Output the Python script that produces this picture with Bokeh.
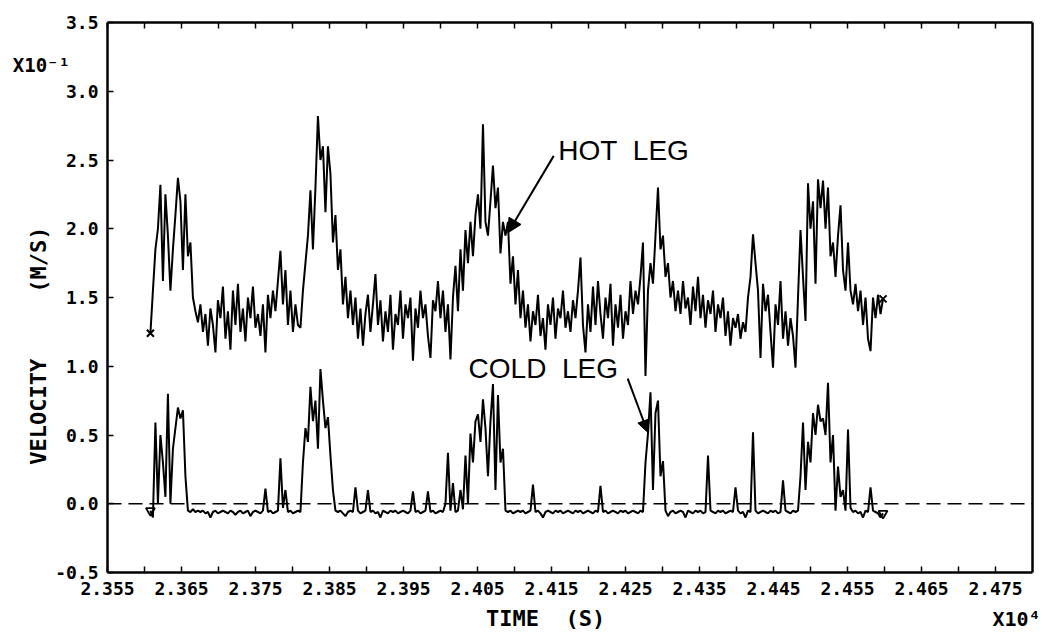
import numpy as np
from bokeh.plotting import figure
from bokeh.models import (FixedTicker, LinearAxis, Label, Arrow, NormalHead,
                          CustomJSTickFormatter, PrintfTickFormatter, Range1d)
from bokeh.embed import file_html
from bokeh.resources import INLINE

# ---------------- data (time in units of 10^4 s, velocity in units of 10^-1 m/s) ----------------
x_tick_labels = ["2.355", "2.365", "2.375", "2.385", "2.395", "2.405", "2.415",
                 "2.425", "2.435", "2.445", "2.455", "2.465", "2.475"]
x_minor_ticks = [2.36, 2.37, 2.38, 2.39, 2.40, 2.41, 2.42, 2.43, 2.44, 2.45, 2.46, 2.47]
y_tick_labels = ["-0.5", "0.0", "0.5", "1.0", "1.5", "2.0", "2.5", "3.0", "3.5"]
x_lo, x_hi = 2.355, 2.48      # axis limits
y_lo, y_hi = -0.5, 3.5

hot_leg = [
    1.24, 1.55, 1.85, 2.00, 2.32, 1.62, 2.25, 1.95, 1.55, 1.85,
    2.10, 2.37, 2.20, 1.70, 2.25, 1.80, 1.90, 1.50, 1.40, 1.32,
    1.45, 1.25, 1.38, 1.15, 1.42, 1.30, 1.10, 1.48, 1.35, 1.58,
    1.20, 1.40, 1.12, 1.55, 1.30, 1.60, 1.25, 1.42, 1.18, 1.50,
    1.35, 1.58, 1.28, 1.38, 1.22, 1.45, 1.10, 1.52, 1.35, 1.55,
    1.40, 1.62, 1.84, 1.45, 1.70, 1.30, 1.55, 1.25, 1.45, 1.30,
    1.28, 1.55, 1.75, 1.95, 2.28, 1.85, 2.30, 2.82, 2.50, 2.60,
    2.12, 2.60, 2.40, 1.90, 2.10, 1.70, 1.85, 1.45, 1.65, 1.35,
    1.55, 1.30, 1.50, 1.20, 1.42, 1.15, 1.38, 1.52, 1.25, 1.45,
    1.67, 1.30, 1.48, 1.18, 1.40, 1.25, 1.52, 1.12, 1.38, 1.30,
    1.55, 1.20, 1.45, 1.35, 1.50, 1.04, 1.42, 1.28, 1.55, 1.35,
    1.45, 1.22, 1.06, 1.48, 1.40, 1.62, 1.35, 1.55, 1.25, 1.45,
    1.05, 1.50, 1.73, 1.40, 1.85, 1.55, 1.99, 1.75, 2.05, 1.80,
    2.10, 2.25, 2.00, 2.76, 2.05, 1.95, 2.20, 2.46, 2.15, 2.30,
    1.82, 2.05, 1.95, 2.05, 1.60, 1.80, 1.45, 1.70, 1.35, 1.55,
    1.28, 1.45, 1.18, 1.40, 1.30, 1.52, 1.22, 1.35, 1.12, 1.45,
    1.30, 1.50, 1.20, 1.42, 1.35, 1.55, 1.28, 1.40, 1.25, 1.48,
    1.35, 1.55, 1.79, 1.30, 1.10, 1.45, 1.25, 1.58, 1.30, 1.62,
    1.38, 1.20, 1.50, 1.35, 1.60, 1.15, 1.45, 1.28, 1.52, 1.20,
    1.40, 1.30, 1.62, 1.38, 1.55, 1.45, 1.65, 1.90, 0.93, 1.55,
    1.75, 1.60, 1.95, 2.30, 1.85, 1.95, 1.65, 1.75, 1.50, 1.62,
    1.40, 1.55, 1.38, 1.62, 1.42, 1.50, 1.30, 1.58, 1.40, 1.65,
    1.35, 1.52, 1.28, 1.48, 1.38, 1.55, 1.25, 1.45, 1.35, 1.50,
    1.22, 1.40, 1.15, 1.35, 1.28, 1.38, 1.20, 1.32, 1.25, 1.50,
    1.65, 1.96, 1.75, 1.55, 1.06, 1.60, 1.40, 1.52, 1.25, 0.99,
    1.45, 1.30, 1.62, 1.20, 1.40, 1.15, 1.35, 1.22, 0.99, 1.50,
    1.99, 1.65, 1.33, 2.33, 2.00, 2.20, 1.60, 2.36, 2.15, 2.35,
    2.00, 2.30, 1.80, 1.90, 1.65, 1.95, 2.17, 1.70, 1.55, 1.90,
    1.55, 1.45, 1.60, 1.40, 1.55, 1.30, 1.50, 1.20, 1.11, 1.50,
    1.35, 1.52, 1.38, 1.49,
]

cold_leg = [
    -0.05, -0.10, 0.59, 0.00, 0.50, 0.30, 0.05, 0.80, 0.00, 0.40,
    0.55, 0.70, 0.62, 0.68, 0.20, -0.05, -0.06, -0.04, -0.06, -0.05,
    -0.06, -0.05, -0.07, -0.06, -0.10, -0.06, -0.05, -0.07, -0.06, -0.05,
    -0.06, -0.07, -0.05, -0.06, -0.08, -0.06, -0.05, -0.07, -0.06, -0.05,
    -0.09, -0.06, -0.05, -0.06, -0.07, -0.05, 0.11, -0.06, -0.05, -0.07,
    -0.06, -0.05, 0.33, -0.03, 0.10, -0.06, -0.05, -0.07, -0.06, -0.05,
    -0.06, 0.30, 0.55, 0.45, 0.85, 0.60, 0.75, 0.40, 0.98, 0.75,
    0.55, 0.63, 0.35, 0.10, -0.05, -0.06, -0.05, -0.07, -0.09, -0.06,
    -0.05, -0.06, 0.12, -0.05, -0.07, -0.06, -0.05, 0.10, -0.06, -0.05,
    -0.07, -0.06, -0.10, -0.05, -0.06, -0.07, -0.05, -0.06, -0.05, -0.07,
    -0.06, -0.05, -0.06, -0.07, -0.05, 0.09, -0.06, -0.05, -0.07, -0.06,
    -0.05, 0.09, -0.06, -0.05, -0.07, -0.06, -0.05, -0.06, 0.00, 0.37,
    -0.05, 0.15, -0.06, -0.05, 0.10, -0.04, 0.35, 0.00, 0.51, 0.30,
    0.60, 0.65, 0.45, 0.76, 0.55, 0.20, 0.60, 0.87, 0.10, 0.79,
    0.30, 0.40, -0.05, -0.06, -0.05, -0.07, -0.06, -0.05, -0.06, -0.05,
    -0.07, -0.06, -0.05, 0.14, -0.06, -0.05, -0.07, -0.10, -0.06, -0.05,
    -0.06, -0.07, -0.05, -0.06, -0.05, -0.07, -0.06, -0.05, -0.06, -0.07,
    -0.05, -0.06, -0.05, -0.07, -0.06, -0.05, -0.06, -0.07, -0.05, -0.06,
    0.13, -0.06, -0.05, -0.07, -0.06, -0.05, -0.06, -0.07, -0.05, -0.06,
    -0.05, -0.07, -0.06, -0.05, -0.06, -0.07, -0.05, -0.06, 0.30, 0.51,
    0.81, 0.10, 0.66, 0.75, 0.20, 0.31, -0.05, -0.09, -0.06, -0.05,
    -0.07, -0.06, -0.05, -0.06, -0.10, -0.05, -0.06, -0.07, -0.05, -0.06,
    -0.05, -0.07, -0.06, 0.35, -0.05, -0.06, -0.07, -0.05, -0.06, -0.05,
    -0.07, -0.06, -0.05, -0.06, 0.12, -0.05, -0.07, -0.06, -0.10, -0.05,
    -0.06, 0.52, -0.05, -0.07, -0.06, -0.05, -0.06, -0.07, -0.05, -0.06,
    -0.05, -0.07, -0.06, 0.17, -0.05, -0.06, -0.07, -0.05, -0.06, -0.05,
    0.20, 0.59, 0.10, 0.45, 0.30, 0.66, 0.50, 0.72, 0.60, 0.62,
    0.50, 0.88, 0.30, 0.50, -0.05, 0.27, 0.05, 0.10, -0.05, 0.54,
    -0.03, -0.06, -0.05, -0.07, -0.06, -0.10, -0.05, -0.06, 0.12, -0.05,
    -0.06, -0.07, -0.10, -0.07,
]

t_start, t_end = 2.3608, 2.4598          # sampled record: 23608 s .. 24598 s
time = np.linspace(t_start, t_end, len(hot_leg))

x_major = [float(s) for s in x_tick_labels]
y_major = [float(s) for s in y_tick_labels]

# ---------------- layout ----------------
W, H = 1045, 633
BOX_L, BOX_R, BOX_T, BOX_B = 107, 1032, 22, 572      # axes box inside the canvas (px)
xs = (x_hi - x_lo) / (BOX_R - BOX_L)
ys = (y_hi - y_lo) / (BOX_B - BOX_T)
x_range = Range1d(x_lo - BOX_L * xs, x_hi + (W - BOX_R) * xs)
y_range = Range1d(y_lo - (H - BOX_B) * ys, y_hi + BOX_T * ys)

MONO = "DejaVu Sans Mono"
SANS = "Liberation Sans"
NB = "\u00a0"

p = figure(width=W, height=H, x_range=x_range, y_range=y_range,
           output_backend="svg", toolbar_location=None,
           min_border=0, min_border_left=0, min_border_right=0,
           min_border_top=0, min_border_bottom=0)
p.grid.visible = False
p.outline_line_color = None
p.background_fill_color = "white"
p.border_fill_color = "white"

AX_W = 2.5

xa = p.xaxis[0]
xa.fixed_location = y_lo
xa.bounds = (x_lo, x_hi)
xa.ticker = FixedTicker(ticks=x_major, minor_ticks=x_minor_ticks)
xa.formatter = PrintfTickFormatter(format="%.3f")
xa.major_tick_in = 6
xa.major_tick_out = 0
xa.minor_tick_in = 6
xa.minor_tick_out = 0
xa.axis_line_width = AX_W
xa.major_tick_line_width = 1.5
xa.minor_tick_line_width = 1.5
xa.major_label_standoff = 9
xa.major_label_text_font = MONO
xa.major_label_text_font_size = "18px"
xa.major_label_text_font_style = "bold"
xa.major_label_text_color = "black"

ya = p.yaxis[0]
ya.fixed_location = x_lo
ya.bounds = (y_lo, y_hi)
ya.ticker = FixedTicker(ticks=y_major)
ya.formatter = PrintfTickFormatter(format="%.1f")
ya.major_tick_in = 6
ya.major_tick_out = 0
ya.minor_tick_line_color = None
ya.axis_line_width = AX_W
ya.major_tick_line_width = 1.5
ya.major_label_standoff = 9
ya.major_label_text_font = MONO
ya.major_label_text_font_size = "18px"
ya.major_label_text_font_style = "bold"
ya.major_label_text_color = "black"

empty = CustomJSTickFormatter(code="return ''")
top = LinearAxis(fixed_location=y_hi, bounds=(x_lo, x_hi),
                 ticker=FixedTicker(ticks=x_major, minor_ticks=x_minor_ticks),
                 formatter=empty,
                 major_tick_in=6, major_tick_out=0, minor_tick_in=6, minor_tick_out=0,
                 axis_line_width=AX_W, major_tick_line_width=1.5, minor_tick_line_width=1.5,
                 major_label_standoff=0, major_label_text_font_size="1px")
p.add_layout(top, "above")
right = LinearAxis(fixed_location=x_hi, bounds=(y_lo, y_hi),
                   ticker=FixedTicker(ticks=[]), formatter=empty,
                   major_tick_line_color=None, minor_tick_line_color=None,
                   axis_line_width=AX_W, major_label_standoff=0,
                   major_label_text_font_size="1px")
p.add_layout(right, "right")

# zero reference line across the axes box
p.line([x_lo, x_hi], [0, 0], line_color="black", line_width=1.5, line_dash="14 7")

# traces
p.line(time, hot_leg, line_color="black", line_width=2)
p.line(time, cold_leg, line_color="black", line_width=2)
p.scatter([time[0], time[-1]], [hot_leg[0], hot_leg[-1]], marker="x", size=10,
          line_color="black", line_width=2)
p.scatter([time[0], time[-1]], [cold_leg[0], cold_leg[-1]], marker="inverted_triangle",
          size=9, line_color="black", fill_color=None, line_width=1.8)

# annotations
p.add_layout(Label(x=2.4159, y=2.569, text="HOT" + NB + NB + "LEG", text_font=SANS,
                   text_font_size="28px", text_color="black",
                   text_align="left", text_baseline="middle"))
p.add_layout(Arrow(end=NormalHead(size=14, fill_color="black", line_color="black"),
                   x_start=2.4153, y_start=2.53, x_end=2.4091, y_end=1.97,
                   line_color="black", line_width=2))
p.add_layout(Label(x=2.4038, y=0.987, text="COLD" + NB + NB + "LEG", text_font=SANS,
                   text_font_size="28px", text_color="black",
                   text_align="left", text_baseline="middle"))
p.add_layout(Arrow(end=NormalHead(size=12, fill_color="black", line_color="black"),
                   x_start=2.4253, y_start=0.91, x_end=2.4280, y_end=0.52,
                   line_color="black", line_width=2))

# axis titles and multipliers
p.add_layout(Label(x=2.3457, y=1.15, text="VELOCITY" + NB * 5 + "(M/S)", angle=np.pi / 2,
                   text_font=MONO, text_font_size="22px", text_font_style="bold",
                   text_color="black", text_align="center", text_baseline="middle"))
p.add_layout(Label(x=2.4142, y=-0.835, text="TIME" + NB * 2 + "(S)", text_font=MONO,
                   text_font_size="22px", text_font_style="bold", text_color="black",
                   text_align="center", text_baseline="middle"))
p.add_layout(Label(x=2.3422, y=3.1945, text="X10⁻¹", text_font=MONO,
                   text_font_size="19px", text_font_style="bold", text_color="black",
                   text_align="left", text_baseline="middle"))
p.add_layout(Label(x=2.4746, y=-0.835, text="X10⁴", text_font=MONO,
                   text_font_size="20px", text_font_style="bold", text_color="black",
                   text_align="left", text_baseline="middle"))

open("out.html", "w").write(file_html(p, INLINE))
